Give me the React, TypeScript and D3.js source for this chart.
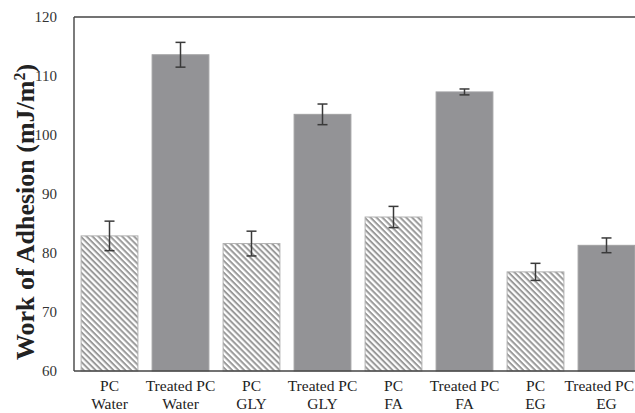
import React from "react";
import * as d3 from "d3";

const categories = ["PC|Water", "Treated PC|Water", "PC|GLY", "Treated PC|GLY", "PC|FA", "Treated PC|FA", "PC|EG", "Treated PC|EG"];
const values = [82.9, 113.6, 81.6, 103.5, 86.1, 107.3, 76.8, 81.3];
const errors = [2.5, 2.1, 2.1, 1.75, 1.8, 0.5, 1.45, 1.25];
const treated = [false, true, false, true, false, true, false, true];
const yTicks = [60, 70, 80, 90, 100, 110, 120];

export default function App() {
  const W = 635, H = 413;
  const left = 74, top = 17, bottom = 371, right = 642;
  const x = d3.scaleBand<string>().domain(categories).range([left, right]).paddingInner(0.2).paddingOuter(0.1);
  const y = d3.scaleLinear().domain([60, 120]).range([bottom, top]);
  const font = "Liberation Serif, Times New Roman, serif";
  return (
    <svg width={W} height={H} style={{ position: "absolute", left: 0, top: 0, background: "#fff" }}>
      <defs>
        <pattern id="hatch" patternUnits="userSpaceOnUse" width="4.2" height="4.2" patternTransform="rotate(45)">
          <rect width="4.2" height="4.2" fill="#fff" />
          <rect width="4.2" height="2" fill="#9a9a9a" />
        </pattern>
      </defs>
      <line x1={left} x2={W} y1={top} y2={top} stroke="#444" strokeWidth={1.4} />
      {categories.map((c, i) => {
        const bx = x(c)!;
        const bw = x.bandwidth();
        const yv = y(values[i]);
        const cx = bx + bw / 2;
        return (
          <g key={c}>
            <rect x={bx} y={yv} width={bw} height={bottom - yv}
              fill={treated[i] ? "#939396" : "url(#hatch)"}
              stroke={treated[i] ? "#a0a0a2" : "#b0b0b0"} strokeWidth={1} />
            <line x1={cx} x2={cx} y1={y(values[i] + errors[i])} y2={y(values[i] - errors[i])} stroke="#3a3a3a" strokeWidth={1.5} />
            <line x1={cx - 5} x2={cx + 5} y1={y(values[i] + errors[i])} y2={y(values[i] + errors[i])} stroke="#3a3a3a" strokeWidth={1.5} />
            <line x1={cx - 5} x2={cx + 5} y1={y(values[i] - errors[i])} y2={y(values[i] - errors[i])} stroke="#3a3a3a" strokeWidth={1.5} />
            {c.split("|").map((t, k) => {
              const halfW = t.length * 3.6;
              const clip = cx + halfW > W - 1;
              return (
                <text key={k} x={clip ? W - 1 : cx} y={391 + k * 18} textAnchor={clip ? "end" : "middle"}
                  fontFamily={font} fontSize={15.5} fill="#222">{t}</text>
              );
            })}
          </g>
        );
      })}
      <line x1={left} x2={left} y1={top} y2={bottom} stroke="#444" strokeWidth={1.4} />
      <line x1={left} x2={W} y1={bottom} y2={bottom} stroke="#444" strokeWidth={1.4} />
      {yTicks.map((t) => (
        <text key={t} x={57} y={y(t) + 5} textAnchor="end" fontFamily={font} fontSize={15} fill="#333">{t}</text>
      ))}
      <text transform={`translate(34,${212}) rotate(-90)`} textAnchor="middle" fontFamily={font} fontSize={26} fontWeight="bold" fill="#222">
        Work of Adhesion (mJ/m<tspan dy={-9} fontSize={16}>2</tspan><tspan dy={9}>)</tspan>
      </text>
    </svg>
  );
}
